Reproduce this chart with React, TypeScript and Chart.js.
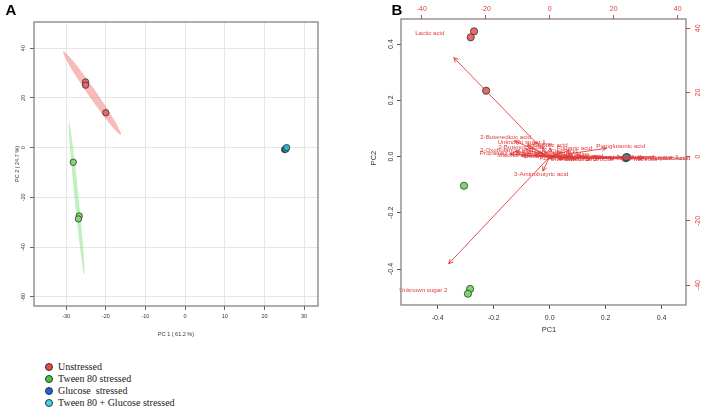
import React, { useEffect, useRef } from "react";
import { Chart, registerables } from "chart.js";
Chart.register(...registerables);

const SANS = '"Liberation Sans", Arial, sans-serif';
const SERIF = '"Liberation Serif", "Times New Roman", serif';

// ---------- legend ----------
const groupNames = ["Unstressed", "Tween 80 stressed", "Glucose  stressed", "Tween 80 + Glucose stressed"];
const legendColors = ["#E8484A", "#3ACF3A", "#1C62D8", "#3AD6E6"];
const pointColorsA = ["#E8686A", "#7DD86C", "#2B5FA8", "#2BB3CF"];
const pointColorsB = ["#E8686A", "#7DD86C", "#1E4E8C", "#2A8FA8"];

// ---------- panel A (PCA scores) ----------
const aTicksX = [-30, -20, -10, 0, 10, 20, 30];
const aTicksY = [-60, -40, -20, 0, 20, 40];
const aUnstressedX = [-25.1, -25.1, -20.0];
const aUnstressedY = [26.4, 25.1, 14.0];
const aTweenX = [-28.2, -26.7, -26.9];
const aTweenY = [-5.9, -27.5, -28.7];
const aGlucoseX = [25.1, 25.3];
const aGlucoseY = [-0.8, -0.5];
const aTweenGlucoseX = [25.4, 25.6];
const aTweenGlucoseY = [-0.6, 0.0];
// confidence ellipses: major-axis end points (x1, y1, x2, y2)
const aEllipseRed = [-30.7, 38.6, -16.2, 5.1];
const aEllipseGreen = [-29.3, 10.2, -25.4, -51.2];

// ---------- panel B (biplot) ----------
const bTicksX = [-0.4, -0.2, 0.0, 0.2, 0.4];
const bTicksY = [-0.4, -0.2, 0.0, 0.2, 0.4];
const bTicksTop = [-40, -20, 0, 20, 40];
const bTicksRight = [-40, -20, 0, 20, 40];
const bUnstressedX = [-0.270, -0.282, -0.227];
const bUnstressedY = [0.445, 0.424, 0.234];
const bTweenX = [-0.306, -0.284, -0.292];
const bTweenY = [-0.104, -0.471, -0.488];
const bGlucoseX = [0.272, 0.277];
const bGlucoseY = [-0.006, -0.003];
const bTweenGlucoseX = [0.274];
const bTweenGlucoseY = [-0.002];

const loadingNames = [
  "Lactic acid", "Unknown sugar 2", "2-Butenedioic acid", "Unknown sugar 1", "Pyroglutamic acid",
  "3-Aminobutyric acid", "Propanoic acid", "2-Oxobutanoic acid", "2-Butenoic acid", "Glycolic acid",
  "Fumaric acid", "Butanedioic acid", "Malic acid", "Unknown sugar 3", "L-Glutamic acid",
  "Phosphoric acid", "Glycerol", "L-Alanine", "Glycine", "L-Valine",
  "L-Proline", "Citric acid", "Oxalic acid", "Acetic acid", "L-Serine",
  "Malonic acid", "Ethanolamine", "Unknown 4", "Unknown 5", "L-Leucine",
  "Sorbitol", "Mannitol", "Unknown 6",
];
const loadingX = [
  -37.5, -39.5, -13.8, -8.8, 22.2,
  -2.7, -15.5, -13.5, -9.4, 0.2,
  7.7, -0.7, 12.4, 32.6, 36.3,
  37.0, 3.0, -4.5, 6.0, 9.0,
  -3.0, 4.5, -6.0, 1.5, 14.5,
  -11.0, 19.5, 28.0, 10.0, 16.0,
  25.0, 30.0, 5.0,
];
const loadingY = [
  38.6, -41.7, 6.2, 4.6, 3.3,
  -5.6, 1.1, 2.1, 2.9, 3.5,
  2.5, 0.1, 0.2, -0.3, -0.6,
  -0.4, 1.0, 1.5, -0.4, 0.6,
  3.9, 1.8, 0.6, -0.5, -0.2,
  0.4, -0.3, -0.2, -0.9, -0.8,
  -0.6, -0.9, -0.8,
];
const arrowShrink = 0.8; // biplot: arrows drawn to 0.8 of the label position

const zip = (xs: number[], ys: number[]) => xs.map((x, i) => ({ x, y: ys[i] }));

function rotText(ctx: CanvasRenderingContext2D, text: string, x: number, y: number, font: string, color: string) {
  ctx.save();
  ctx.translate(x, y);
  ctx.rotate(-Math.PI / 2);
  ctx.font = font;
  ctx.fillStyle = color;
  ctx.textAlign = "center";
  ctx.textBaseline = "middle";
  ctx.fillText(text, 0, 0);
  ctx.restore();
}

function plainText(ctx: CanvasRenderingContext2D, text: string, x: number, y: number, font: string, color: string) {
  ctx.save();
  ctx.font = font;
  ctx.fillStyle = color;
  ctx.textAlign = "center";
  ctx.textBaseline = "middle";
  ctx.fillText(text, x, y);
  ctx.restore();
}

const setTicks = (vals: number[]) => (s: any) => {
  s.ticks = vals.map((v) => ({ value: v }));
};

export default function App() {
  const refA = useRef<HTMLCanvasElement>(null);
  const refB = useRef<HTMLCanvasElement>(null);

  useEffect(() => {
    const ptStyle = (color: string, r: number) => ({
      backgroundColor: color,
      borderColor: "#333",
      borderWidth: 0.8,
      pointRadius: r,
      pointHoverRadius: r,
    });

    // ---------------- Chart A ----------------
    const plugA = {
      id: "plugA",
      beforeDatasetsDraw(chart: any) {
        const { ctx, scales } = chart;
        const xs = scales.x, ys = scales.y;
        const drawEll = (e: number[], half: number, fill: string) => {
          const x1 = xs.getPixelForValue(e[0]), y1 = ys.getPixelForValue(e[1]);
          const x2 = xs.getPixelForValue(e[2]), y2 = ys.getPixelForValue(e[3]);
          const cx = (x1 + x2) / 2, cy = (y1 + y2) / 2;
          const a = Math.hypot(x2 - x1, y2 - y1) / 2;
          const ang = Math.atan2(y2 - y1, x2 - x1);
          ctx.save();
          ctx.beginPath();
          ctx.ellipse(cx, cy, a, half, ang, 0, Math.PI * 2);
          ctx.fillStyle = fill;
          ctx.fill();
          ctx.restore();
        };
        drawEll(aEllipseRed, 4, "rgba(240,120,120,0.5)");
        drawEll(aEllipseGreen, 2, "rgba(130,225,120,0.5)");
      },
      afterDraw(chart: any) {
        const { ctx, chartArea: ca, scales } = chart;
        ctx.save();
        ctx.strokeStyle = "#777";
        ctx.lineWidth = 1.2;
        ctx.strokeRect(ca.left, ca.top, ca.right - ca.left, ca.bottom - ca.top);
        ctx.restore();
        const f = `5.5px ${SANS}`;
        for (const t of scales.y.ticks) {
          rotText(ctx, String(t.value), 23, scales.y.getPixelForValue(t.value), f, "#333");
        }
        rotText(ctx, "PC 2 ( 24.7 %)", 17, (ca.top + ca.bottom) / 2, f, "#333");
        plainText(ctx, "PC 1 ( 61.2 %)", (ca.left + ca.right) / 2, 334, f, "#333");
        plainText(ctx, "A", 11, 11, `bold 15px ${SANS}`, "#000");
      },
    };

    const gridA = { color: "#e6e6e6", lineWidth: 1, tickColor: "#666", tickLength: 4 };
    const chartA = new Chart(refA.current as HTMLCanvasElement, {
      type: "scatter",
      data: {
        datasets: [
          { label: groupNames[0], data: zip(aUnstressedX, aUnstressedY), ...ptStyle(pointColorsA[0], 3.2) },
          { label: groupNames[1], data: zip(aTweenX, aTweenY), ...ptStyle(pointColorsA[1], 3.2) },
          { label: groupNames[3], data: zip(aTweenGlucoseX, aTweenGlucoseY), ...ptStyle(pointColorsA[3], 3.2) },
          { label: groupNames[2], data: zip(aGlucoseX, aGlucoseY), ...ptStyle(pointColorsA[2], 3.2) },
        ],
      },
      options: {
        animation: false,
        responsive: false,
        events: [],
        layout: { padding: { left: 0, top: 22, right: 42, bottom: 0 } },
        plugins: { legend: { display: false }, tooltip: { enabled: false } },
        scales: {
          x: {
            type: "linear",
            min: -38.1,
            max: 33.5,
            afterBuildTicks: setTicks(aTicksX),
            afterFit: (s: any) => { s.height = 39; },
            grid: gridA,
            border: { display: false },
            ticks: { font: { family: SANS, size: 5.5 }, color: "#333", padding: 3, maxRotation: 0, autoSkip: false },
          },
          y: {
            type: "linear",
            min: -63.7,
            max: 50.5,
            afterBuildTicks: setTicks(aTicksY),
            afterFit: (s: any) => { s.width = 34; },
            grid: gridA,
            border: { display: false },
            ticks: { display: false },
          },
        },
      } as any,
      plugins: [plugA],
    });

    // ---------------- Chart B ----------------
    const RED = "#E03C3C";
    const plugB = {
      id: "plugB",
      afterDatasetsDraw(chart: any) {
        const { ctx, scales } = chart;
        const xs = scales.x2, ys = scales.y2;
        const ox = xs.getPixelForValue(0), oy = ys.getPixelForValue(0);
        ctx.save();
        ctx.strokeStyle = RED;
        ctx.lineWidth = 0.9;
        loadingX.forEach((lx, i) => {
          const tx = xs.getPixelForValue(lx * arrowShrink);
          const ty = ys.getPixelForValue(loadingY[i] * arrowShrink);
          const ang = Math.atan2(ty - oy, tx - ox);
          const L = 5, spread = Math.PI / 7;
          ctx.beginPath();
          ctx.moveTo(tx - L * Math.cos(ang - spread), ty - L * Math.sin(ang - spread));
          ctx.lineTo(tx, ty);
          ctx.lineTo(tx - L * Math.cos(ang + spread), ty - L * Math.sin(ang + spread));
          ctx.stroke();
        });
        ctx.restore();
        loadingNames.forEach((n, i) => {
          plainText(ctx, n, xs.getPixelForValue(loadingX[i]), ys.getPixelForValue(loadingY[i]), `6.2px ${SANS}`, RED);
        });
      },
      afterDraw(chart: any) {
        const { ctx, chartArea: ca, scales } = chart;
        ctx.save();
        ctx.strokeStyle = "#7a7a7a";
        ctx.lineWidth = 1.2;
        ctx.strokeRect(ca.left, ca.top, ca.right - ca.left, ca.bottom - ca.top);
        ctx.restore();
        const f = `7px ${SANS}`;
        for (const t of scales.y.ticks) {
          rotText(ctx, t.value.toFixed(1), 25.7, scales.y.getPixelForValue(t.value), f, "#333");
        }
        for (const t of scales.y2.ticks) {
          rotText(ctx, String(t.value), 332.7, scales.y2.getPixelForValue(t.value), f, RED);
        }
        rotText(ctx, "PC2", 9, 158, `7.5px ${SANS}`, "#333");
        plainText(ctx, "PC1", 184, 330, `7.5px ${SANS}`, "#333");
        plainText(ctx, "B", 32, 11, `bold 15px ${SANS}`, "#000");
      },
    };

    const arrowSets = loadingX.map((lx, i) => ({
      label: loadingNames[i],
      data: [{ x: 0, y: 0 }, { x: lx * arrowShrink, y: loadingY[i] * arrowShrink }],
      xAxisID: "x2",
      yAxisID: "y2",
      showLine: true,
      borderColor: RED,
      borderWidth: 0.9,
      pointRadius: 0,
      order: 2,
    }));

    const tickGrid = (c: string) => ({ drawOnChartArea: false, drawTicks: true, tickLength: 4, tickColor: c });
    const chartB = new Chart(refB.current as HTMLCanvasElement, {
      type: "scatter",
      data: {
        datasets: [
          { label: groupNames[0], data: zip(bUnstressedX, bUnstressedY), ...ptStyle(pointColorsB[0], 3.6), order: 1 },
          { label: groupNames[1], data: zip(bTweenX, bTweenY), ...ptStyle(pointColorsB[1], 3.6), order: 1 },
          { label: groupNames[3], data: zip(bTweenGlucoseX, bTweenGlucoseY), ...ptStyle(pointColorsB[3], 3.6), order: 1 },
          { label: groupNames[2], data: zip(bGlucoseX, bGlucoseY), ...ptStyle(pointColorsB[2], 3.6), order: 1 },
          ...arrowSets,
        ],
      },
      options: {
        animation: false,
        responsive: false,
        events: [],
        layout: { padding: { left: 0, top: 0, right: 0, bottom: 0 } },
        plugins: { legend: { display: false }, tooltip: { enabled: false } },
        scales: {
          x: {
            type: "linear",
            position: "bottom",
            min: -0.531,
            max: 0.487,
            afterBuildTicks: setTicks(bTicksX),
            afterFit: (s: any) => { s.height = 40; },
            grid: tickGrid("#555"),
            border: { display: false },
            ticks: {
              font: { family: SANS, size: 7 }, color: "#333", padding: 5, maxRotation: 0, autoSkip: false,
              callback: (v: any) => Number(v).toFixed(1),
            },
          },
          y: {
            type: "linear",
            position: "left",
            min: -0.528,
            max: 0.489,
            afterBuildTicks: setTicks(bTicksY),
            afterFit: (s: any) => { s.width = 36; },
            grid: tickGrid("#555"),
            border: { display: false },
            ticks: { display: false },
          },
          x2: {
            type: "linear",
            position: "top",
            min: -46.5,
            max: 42.6,
            afterBuildTicks: setTicks(bTicksTop),
            afterFit: (s: any) => { s.height = 19; },
            grid: tickGrid(RED),
            border: { display: false },
            ticks: { font: { family: SANS, size: 7 }, color: RED, padding: 2, maxRotation: 0, autoSkip: false },
          },
          y2: {
            type: "linear",
            position: "right",
            min: -46.2,
            max: 42.9,
            afterBuildTicks: setTicks(bTicksRight),
            afterFit: (s: any) => { s.width = 24; },
            grid: tickGrid(RED),
            border: { display: false },
            ticks: { display: false },
          },
        },
      } as any,
      plugins: [plugB],
    });

    return () => {
      chartA.destroy();
      chartB.destroy();
    };
  }, []);

  const legendY = [367.3, 379.3, 391, 402.7];

  return (
    <div style={{ position: "absolute", left: 0, top: 0, width: 710, height: 413, background: "#fff", overflow: "hidden" }}>
      <canvas ref={refA} width={360} height={345} style={{ position: "absolute", left: 0, top: 0, width: 360, height: 345 }} />
      <canvas ref={refB} width={345} height={345} style={{ position: "absolute", left: 365, top: 0, width: 345, height: 345 }} />
      {groupNames.map((g, i) => (
        <div
          key={g}
          style={{ position: "absolute", left: 45, top: legendY[i] - 6, height: 12, display: "flex", alignItems: "center", whiteSpace: "pre" }}
        >
          <span
            style={{
              display: "inline-block", width: 6, height: 6, borderRadius: "50%",
              background: legendColors[i], border: "0.8px solid #333", marginRight: 5,
            }}
          />
          <span style={{ fontFamily: SERIF, fontSize: 10, lineHeight: "12px", color: "#222" }}>{g}</span>
        </div>
      ))}
    </div>
  );
}
